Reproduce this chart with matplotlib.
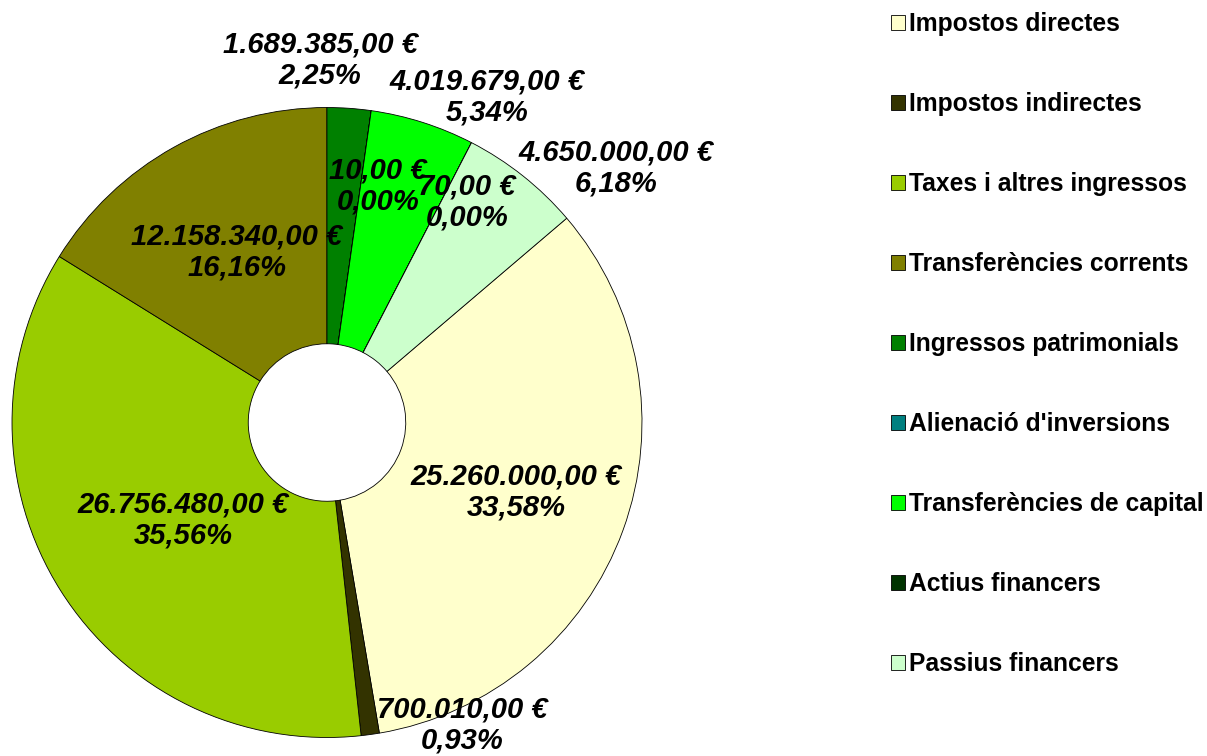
import matplotlib
matplotlib.use('Agg')
import matplotlib.pyplot as plt

categories = ['Impostos directes', 'Impostos indirectes', 'Taxes i altres ingressos',
              'Transferències corrents', 'Ingressos patrimonials', "Alienació d'inversions",
              'Transferències de capital', 'Actius financers', 'Passius financers']
amounts = [25260000.00, 700010.00, 26756480.00, 12158340.00, 1689385.00,
           10.00, 4019679.00, 70.00, 4650000.00]
colors = ['#FFFFCC', '#333300', '#99CC00', '#808000', '#008000',
          '#008080', '#00FF00', '#003300', '#CCFFCC']

# label anchor positions (in pie radius units), as placed in the original
label_xy = [(0.600, -0.221), (0.429, -0.960), (-0.457, -0.310), (-0.286, 0.541),
            (-0.022, 1.151), (0.162, 0.751), (0.508, 1.033), (0.444, 0.700),
            (0.917, 0.808)]


def fmt_euro(v):
    s = '{:,.2f}'.format(v)
    s = s.replace(',', 'X').replace('.', ',').replace('X', '.')
    return s + ' €'


def fmt_pct(p):
    return '{:.2f}%'.format(p).replace('.', ',')


def main():
    plt.rcParams['font.family'] = ['Liberation Sans', 'DejaVu Sans']
    fig = plt.figure(figsize=(12.07, 7.56), dpi=100)
    ax = fig.add_axes([0.00994, 0.02447, 0.52196, 0.8333])

    wedges, _ = ax.pie(amounts, colors=colors, startangle=40.44, counterclock=False,
                       radius=1.0,
                       wedgeprops=dict(width=0.75, edgecolor='black', linewidth=0.6))
    ax.set_xlim(-1, 1)
    ax.set_ylim(-1, 1)
    ax.set_aspect('equal')
    ax.axis('off')

    total = sum(amounts)
    for v, (x, y) in zip(amounts, label_xy):
        ax.text(x, y, fmt_euro(v) + '\n' + fmt_pct(v / total * 100),
                ha='center', va='center', fontsize=21, fontweight='bold',
                fontstyle='italic', linespacing=1.15, color='black')

    fig.legend(wedges, categories, loc='upper left',
               bbox_to_anchor=(891 / 1207, 1 - 12 / 756), frameon=False,
               prop=dict(size=17.7, weight='bold'), handlelength=0.55,
               handleheight=0.55, handletextpad=0.2, labelspacing=2.28,
               borderpad=0, borderaxespad=0)

    fig.savefig('out.png', dpi=100)


if __name__ == "__main__":
    main()
